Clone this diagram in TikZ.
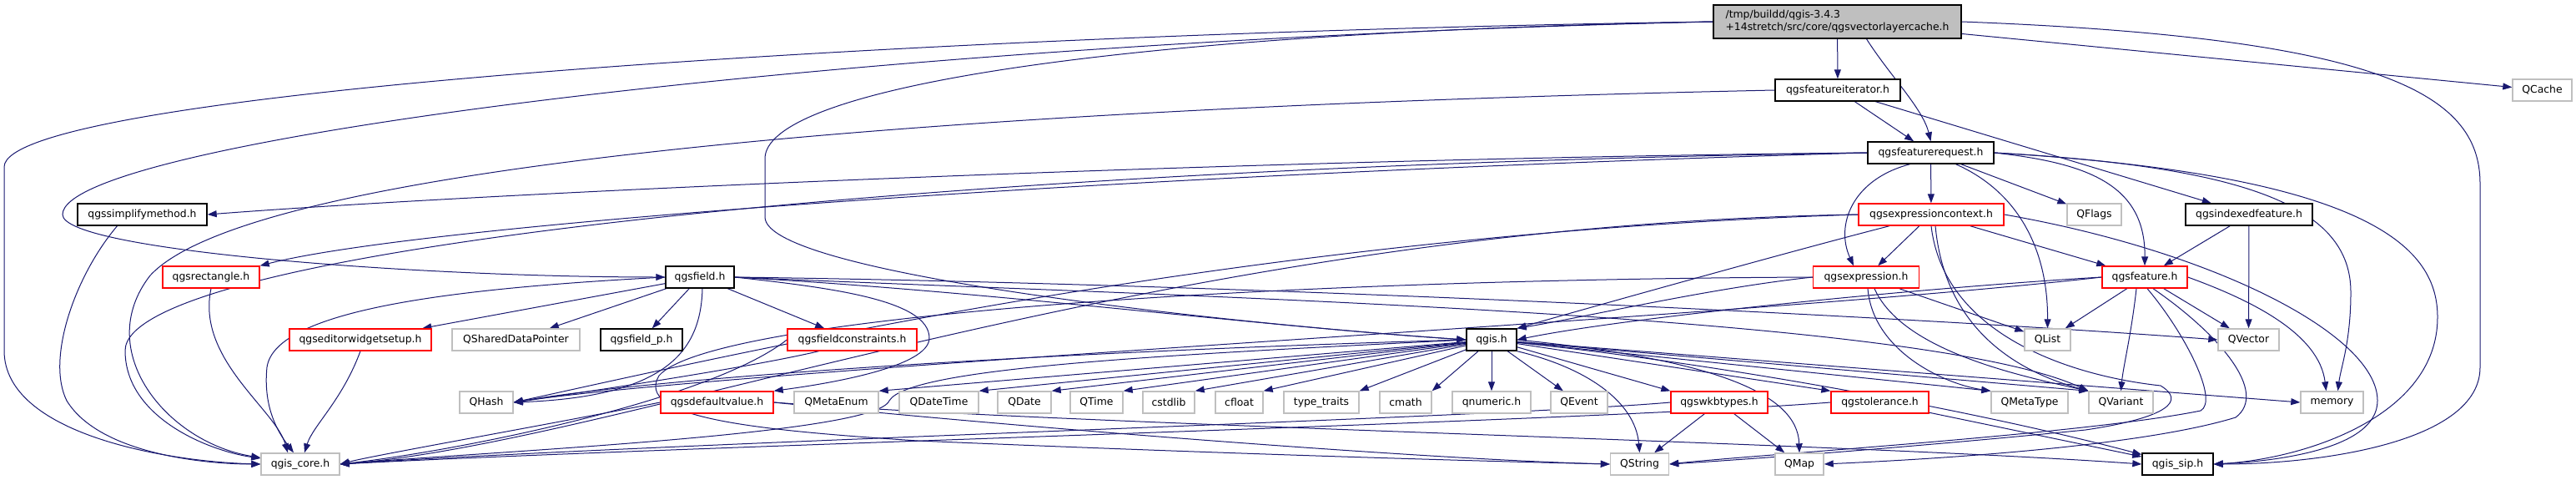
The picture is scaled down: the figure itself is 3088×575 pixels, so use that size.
\documentclass[tikz,border=0pt]{standalone}
\usepackage{fontspec}
\newfontfamily\dejavu{DejaVu Sans}
\newcommand{\lblfont}{\dejavu\fontsize{12.4}{15}\selectfont}
\usetikzlibrary{arrows.meta}
\definecolor{navyline}{RGB}{25,25,112}
\definecolor{greyline}{RGB}{191,191,191}
\pgfdeclarelayer{edges}
\pgfsetlayers{edges,main}

\begin{document}
\begin{tikzpicture}[x=1pt, y=-1pt, >={Triangle[length=11pt,width=8pt]},
    hdr/.style={draw, fill=white, line width=1.4pt, minimum height=26pt, inner sep=0pt, font=\lblfont},
    docbox/.style={hdr, draw=black},
    redbox/.style={hdr, draw=red},
    extbox/.style={hdr, draw=greyline},
    edge/.style={->, draw=navyline, fill=none, line width=1pt}]
    \useasboundingbox (0,0) rectangle (3088,575);

    % nodes
    \node[docbox, fill=greyline, minimum width=297pt, minimum height=40pt, align=left] (root) at (2202.5,26)
        {/tmp/buildd/qgis-3.4.3\\+14stretch/src/core/qgsvectorlayercache.h};
    \node[docbox, minimum width=150pt] (fiter) at (2203,108) {qgsfeatureiterator.h};
    \node[extbox, minimum width=71pt] (qcache) at (3047.5,108) {QCache};
    \node[docbox, minimum width=151pt] (freq) at (2314.5,183) {qgsfeaturerequest.h};
    \node[docbox, minimum width=155pt] (simp) at (170.5,257) {qgssimplifymethod.h};
    \node[redbox, minimum width=174pt] (exctx) at (2315,257) {qgsexpressioncontext.h};
    \node[extbox, minimum width=65pt] (qflags) at (2510.5,257) {QFlags};
    \node[docbox, minimum width=152pt] (idxf) at (2696,257) {qgsindexedfeature.h};
    \node[redbox, minimum width=116pt] (rect) at (253,332) {qgsrectangle.h};
    \node[docbox, minimum width=82pt] (field) at (839,332) {qgsfield.h};
    \node[redbox, minimum width=127pt] (expr) at (2237,332) {qgsexpression.h};
    \node[redbox, minimum width=102pt] (feat) at (2571,332) {qgsfeature.h};
    \node[redbox, minimum width=170pt] (ews) at (432,407) {qgseditorwidgetsetup.h};
    \node[extbox, minimum width=153pt] (sdp) at (618.5,407) {QSharedDataPointer};
    \node[docbox, minimum width=98pt] (fieldp) at (769,407) {qgsfield\_p.h};
    \node[redbox, minimum width=155pt] (fcons) at (1021.5,407) {qgsfieldconstraints.h};
    \node[docbox, minimum width=60pt] (qgis) at (1788,407) {qgis.h};
    \node[extbox, minimum width=55pt] (qlist) at (2454.5,407) {QList};
    \node[extbox, minimum width=73pt] (qvector) at (2695.5,407) {QVector};
    \node[extbox, minimum width=64pt] (qhash) at (583,482) {QHash};
    \node[redbox, minimum width=135pt] (defval) at (859.5,482) {qgsdefaultvalue.h};
    \node[extbox, minimum width=101pt] (metaenum) at (1002.5,482) {QMetaEnum};
    \node[extbox, minimum width=95pt] (datetime) at (1125.5,482) {QDateTime};
    \node[extbox, minimum width=64pt] (qdate) at (1228,482) {QDate};
    \node[extbox, minimum width=63pt] (qtime) at (1314.5,482) {QTime};
    \node[extbox, minimum width=62pt] (cstdlib) at (1401,482) {cstdlib};
    \node[extbox, minimum width=57pt] (cfloat) at (1485.5,482) {cfloat};
    \node[extbox, minimum width=90pt] (typetraits) at (1584,482) {type\_traits};
    \node[extbox, minimum width=62pt] (cmath) at (1685,482) {cmath};
    \node[extbox, minimum width=94pt] (qnumeric) at (1788,482) {qnumeric.h};
    \node[extbox, minimum width=68pt] (qevent) at (1893,482) {QEvent};
    \node[redbox, minimum width=116pt] (wkb) at (2061,482) {qgswkbtypes.h};
    \node[redbox, minimum width=117pt] (tol) at (2253.5,482) {qgstolerance.h};
    \node[extbox, minimum width=92pt] (metatype) at (2433,482) {QMetaType};
    \node[extbox, minimum width=77pt] (qvariant) at (2542.5,482) {QVariant};
    \node[extbox, minimum width=75pt] (memory) at (2795.5,482) {memory};
    \node[extbox, minimum width=94pt] (core) at (360,556) {qgis\_core.h};
    \node[extbox, minimum width=70pt] (qstring) at (1965.5,556) {QString};
    \node[extbox, minimum width=58pt] (qmap) at (2157,556) {QMap};
    \node[docbox, minimum width=85pt] (sip) at (2610.5,556) {qgis\_sip.h};

    \begin{pgfonlayer}{edges}
    % qgsvectorlayercache.h
    \draw[edge] (root) -- (fiter);
    \draw[edge] ([xshift=35pt]root.south) .. controls (2265,90) and (2305,130) .. (freq.north);
    \draw[edge] (root) -- (qcache);
    \draw[edge] (root.east) .. controls (2850,45) and (2973,110) .. (2973,220) -- (2973,440) .. controls (2973,530) and (2780,556) .. (sip.east);
    \draw[edge] (root.west) .. controls (1100,40) and (5,110) .. (5,200) -- (5,420) .. controls (5,520) and (200,553) .. (core.west);
    \draw[edge] (root.west) .. controls (1000,50) and (75,170) .. (75,257) .. controls (75,300) and (500,332) .. (field.west);
    \draw[edge] (root.west) .. controls (1300,40) and (917,110) .. (917,190) -- (917,260) .. controls (917,330) and (1500,390) .. (qgis.west);

    % qgsfeatureiterator.h
    \draw[edge] (fiter) -- (freq);
    \draw[edge] (fiter) -- (idxf);
    \draw[edge] (fiter.west) .. controls (1100,130) and (300,200) .. (180,330) .. controls (110,420) and (200,530) .. (core);

    % qgsfeaturerequest.h
    \draw[edge] (freq) -- (exctx);
    \draw[edge] (freq) -- (qflags);
    \draw[edge] ([xshift=-25pt]freq.south) .. controls (2220,215) and (2200,270) .. ([xshift=-15pt]expr.north);
    \draw[edge] ([xshift=30pt]freq.south) .. controls (2420,230) and (2455,300) .. (qlist.north);
    \draw[edge] (freq.east) .. controls (2500,195) and (2572,220) .. (feat.north);
    \draw[edge] (freq.east) .. controls (2700,200) and (2818,250) .. (2818,350) .. controls (2818,410) and (2806,440) .. ([xshift=7pt]memory.north);
    \draw[edge] (freq.east) .. controls (2850,210) and (2922,300) .. (2922,380) .. controls (2922,500) and (2760,550) .. (sip.east);
    \draw[edge] (freq.west) .. controls (1500,190) and (600,230) .. (simp.east);
    \draw[edge] (freq.west) .. controls (1100,200) and (150,300) .. (150,420) .. controls (150,500) and (250,540) .. (core);
    \draw[edge] (freq.west) .. controls (1300,210) and (500,270) .. (rect.north east);

    \draw[edge] ([xshift=-30pt]simp.south) .. controls (90,330) and (55,430) .. (80,480) .. controls (120,545) and (250,556) .. (core.west);
    \draw[edge] (rect.south) .. controls (235,430) and (330,490) .. ([xshift=-15pt]core.north);
    \draw[edge] (ews.south) .. controls (410,480) and (375,510) .. ([xshift=5pt]core.north);

    % qgsfield.h
    \draw[edge] (field) -- (ews);
    \draw[edge] (field) -- (sdp);
    \draw[edge] (field) -- (fieldp);
    \draw[edge] (field) -- (fcons);
    \draw[edge] (field.west) .. controls (550,345) and (330,370) .. (320,440) .. controls (315,490) and (335,520) .. ([xshift=-8pt]core.north);
    \draw[edge] ([xshift=3pt]field.south) .. controls (840,420) and (800,475) .. (qhash.east);
    \draw[edge] (field.east) .. controls (1000,345) and (1114,360) .. (1114,405) .. controls (1114,440) and (990,460) .. (defval.north east);
    \draw[edge] (field.east) .. controls (1500,340) and (2300,380) .. (qvector.west);
    \draw[edge] (field.east) .. controls (1400,355) and (2300,375) .. (qvariant.north west);
    \draw[edge] (field.east) .. controls (1200,350) and (1500,390) .. (qgis.west);

    \draw[edge] (fcons.west) .. controls (850,480) and (550,540) .. (core.east);
    \draw[edge] ([xshift=-40pt]fcons.south) .. controls (900,440) and (700,470) .. (qhash.east);
    \draw[edge] (defval.west) .. controls (650,510) and (450,545) .. (core.east);
    \draw[edge] (defval.east) .. controls (1200,510) and (1700,550) .. (qstring.west);
    \draw[edge] (defval.east) .. controls (1300,510) and (2200,530) .. (sip.west);

    % qgis.h
    \foreach \t in {metaenum, datetime, qdate, qtime, cstdlib, cfloat, typetraits, cmath}
        \draw[edge] (qgis) -- (\t.north east);
    \draw[edge] (qgis) -- (qnumeric);
    \draw[edge] (qgis) -- (qevent);
    \foreach \t in {wkb, tol, metatype, qvariant}
        \draw[edge] (qgis) -- (\t.north west);
    \draw[edge] (qgis) -- (memory.west);
    \draw[edge] (qgis.south east) .. controls (1900,440) and (1960,480) .. (qstring.north);
    \draw[edge] (qgis.east) .. controls (2050,430) and (2155,470) .. (qmap.north);
    \draw[edge] (qgis) .. controls (2100,440) and (2400,500) .. (sip);
    \draw[edge] (qgis.west) .. controls (1300,420) and (800,450) .. (qhash.east);
    \draw[edge] (qgis.west) .. controls (1400,425) and (1090,440) .. (1066,480) .. controls (1050,520) and (600,540) .. (core.east);

    % qgsexpressioncontext.h
    \draw[edge] (exctx) -- (expr);
    \draw[edge] (exctx) -- (feat);
    \draw[edge] ([xshift=-50pt]exctx.south) .. controls (2150,300) and (1900,370) .. (qgis.north east);
    \draw[edge] (exctx.west) .. controls (1400,270) and (750,530) .. (core.east);
    \draw[edge] (exctx.west) .. controls (1500,280) and (900,420) .. (qhash.east);
    \draw[edge] (exctx.east) .. controls (2650,300) and (2850,400) .. (2850,480) .. controls (2850,540) and (2720,553) .. (sip.east);
    \draw[edge] ([xshift=5pt]exctx.south) .. controls (2330,380) and (2400,440) .. (qvariant.north west);
    \draw[edge] (exctx.south) .. controls (2330,400) and (2480,450) .. (2590,462) .. controls (2620,480) and (2600,500) .. (2500,515) .. controls (2300,535) and (2100,550) .. (qstring.east);

    % qgsexpression.h
    \draw[edge] (expr) -- (qlist);
    \draw[edge] (expr.west) .. controls (2050,345) and (1900,380) .. (qgis.north east);
    \draw[edge] ([xshift=2pt]expr.south) .. controls (2245,420) and (2330,460) .. (metatype.north west);
    \draw[edge] ([xshift=10pt]expr.south) .. controls (2280,420) and (2420,450) .. (qvariant.north west);
    \draw[edge] (expr.west) .. controls (1500,335) and (850,380) .. (790,450) .. controls (760,500) and (900,515) .. (1100,528) .. controls (1500,545) and (1800,553) .. (qstring.west);

    % qgsfeature.h
    \draw[edge] (feat) -- (qlist);
    \draw[edge] (feat) -- (qvector);
    \draw[edge] (feat.west) .. controls (2300,345) and (1950,380) .. (qgis.east);
    \draw[edge] (feat.west) .. controls (2100,380) and (900,440) .. (qhash.east);
    \draw[edge] ([xshift=-10pt]feat.south) .. controls (2555,400) and (2545,440) .. (qvariant.north);
    \draw[edge] (feat.east) .. controls (2700,360) and (2780,400) .. ([xshift=-7pt]memory.north);
    \draw[edge] ([xshift=3pt]feat.south) .. controls (2620,400) and (2660,480) .. (2638,492) .. controls (2500,520) and (2100,545) .. (qstring.east);
    \draw[edge] ([xshift=10pt]feat.south) .. controls (2660,400) and (2720,470) .. (2680,500) .. controls (2550,540) and (2250,553) .. (qmap.east);

    \draw[edge] (idxf) -- (feat);
    \draw[edge] (idxf) -- (qvector);

    \draw[edge] (wkb) -- (qstring);
    \draw[edge] (wkb) -- (qmap);
    \draw[edge] (wkb.west) .. controls (1800,500) and (800,530) .. (core.east);
    \draw[edge] (tol) -- (sip);
    \draw[edge] (tol.west) .. controls (1900,505) and (800,535) .. (core.east);
    \end{pgfonlayer}

\end{tikzpicture}
\end{document}
